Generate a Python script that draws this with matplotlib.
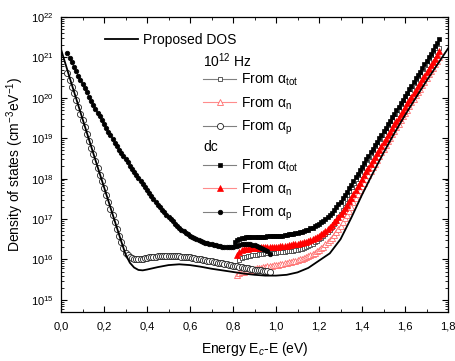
import numpy as np
import matplotlib
matplotlib.use("Agg")
import matplotlib.pyplot as plt
from matplotlib.ticker import MultipleLocator, LogLocator, FuncFormatter, NullFormatter

plt.rcParams['font.family'] = ['Liberation Sans', 'DejaVu Sans']
plt.rcParams['mathtext.fontset'] = 'custom'
plt.rcParams['mathtext.rm'] = 'Liberation Sans'
plt.rcParams['mathtext.it'] = 'Liberation Sans:italic'
plt.rcParams['mathtext.bf'] = 'Liberation Sans:bold'

# Proposed DOS (solid line), log10 of density
e_dos = [0.0, 0.05, 0.10, 0.15, 0.20, 0.25, 0.28, 0.30, 0.32, 0.34, 0.36, 0.38, 0.40,
         0.45, 0.50, 0.55, 0.60, 0.65, 0.70, 0.75, 0.80, 0.85, 0.90, 0.95, 1.00, 1.05,
         1.10, 1.15, 1.20, 1.25, 1.30, 1.35, 1.40, 1.45, 1.50, 1.55, 1.60, 1.65, 1.70,
         1.75, 1.80]
logn_dos = [21.20, 20.33, 19.48, 18.63, 17.79, 16.95, 16.45, 16.13, 15.92, 15.80, 15.74,
            15.73, 15.75, 15.81, 15.86, 15.88, 15.86, 15.82, 15.77, 15.73, 15.69, 15.65,
            15.62, 15.60, 15.60, 15.62, 15.68, 15.79, 15.97, 16.15, 16.50, 17.03, 17.60,
            18.13, 18.64, 19.12, 19.57, 20.00, 20.42, 20.82, 21.22]

# 10^12 Hz, from alpha_tot (starts at 0.83 eV, 0.01 eV step)
logn_tot12 = [15.99, 16.03, 16.05, 16.07, 16.08, 16.09, 16.10, 16.11, 16.12, 16.13,
              16.14, 16.14, 16.15, 16.15, 16.16, 16.16, 16.17, 16.17, 16.18, 16.18,
              16.19, 16.19, 16.20, 16.20, 16.21, 16.22, 16.23, 16.24, 16.25, 16.27,
              16.29, 16.31, 16.33, 16.36, 16.39, 16.42, 16.46, 16.50, 16.54, 16.59,
              16.64, 16.69, 16.74, 16.81, 16.88, 16.96, 17.04, 17.13, 17.22, 17.31,
              17.40, 17.50, 17.60, 17.69, 17.79, 17.89, 17.98, 18.08, 18.17, 18.26,
              18.35, 18.44, 18.53, 18.62, 18.71, 18.80, 18.89, 18.98, 19.07, 19.16,
              19.24, 19.33, 19.42, 19.50, 19.59, 19.68, 19.76, 19.85, 19.94, 20.02,
              20.11, 20.19, 20.28, 20.37, 20.45, 20.54, 20.62, 20.71, 20.80, 20.88,
              20.97, 21.05, 21.14, 21.23]

# 10^12 Hz, from alpha_n (starts at 0.82 eV)
logn_n12 = [15.62, 15.66, 15.68, 15.70, 15.72, 15.73, 15.74, 15.75, 15.77, 15.78,
            15.79, 15.80, 15.81, 15.82, 15.83, 15.84, 15.85, 15.86, 15.86, 15.87,
            15.88, 15.89, 15.90, 15.91, 15.93, 15.94, 15.95, 15.97, 15.98, 16.00,
            16.02, 16.04, 16.06, 16.08, 16.11, 16.14, 16.17, 16.20, 16.24, 16.28,
            16.32, 16.37, 16.42, 16.48, 16.54, 16.61, 16.68, 16.76, 16.84, 16.93,
            17.02, 17.11, 17.21, 17.31, 17.41, 17.51, 17.61, 17.71, 17.81, 17.90,
            18.00, 18.09, 18.19, 18.28, 18.37, 18.46, 18.56, 18.65, 18.74, 18.83,
            18.92, 19.01, 19.10, 19.19, 19.28, 19.36, 19.45, 19.54, 19.63, 19.71,
            19.80, 19.89, 19.97, 20.06, 20.15, 20.23, 20.32, 20.40, 20.49, 20.58,
            20.66, 20.75, 20.83, 20.92, 21.00]

# 10^12 Hz, from alpha_p (starts at 0.03 eV)
logn_p12 = [20.62, 20.45, 20.28, 20.12, 19.95, 19.78, 19.61, 19.44, 19.28, 19.11,
            18.94, 18.77, 18.60, 18.44, 18.27, 18.10, 17.93, 17.76, 17.60, 17.43,
            17.26, 17.09, 16.92, 16.76, 16.59, 16.43, 16.28, 16.17, 16.10, 16.06,
            16.04, 16.02, 16.01, 16.01, 16.01, 16.02, 16.03, 16.04, 16.05, 16.06,
            16.07, 16.07, 16.08, 16.08, 16.09, 16.09, 16.09, 16.09, 16.09, 16.09,
            16.08, 16.08, 16.08, 16.07, 16.07, 16.06, 16.06, 16.05, 16.04, 16.03,
            16.02, 16.01, 16.00, 15.99, 15.98, 15.97, 15.96, 15.95, 15.94, 15.93,
            15.92, 15.91, 15.90, 15.89, 15.88, 15.87, 15.86, 15.85, 15.84, 15.83,
            15.82, 15.81, 15.80, 15.79, 15.78, 15.77, 15.76, 15.75, 15.74, 15.74,
            15.73, 15.72, 15.71, 15.71, 15.70]

# dc, from alpha_tot (starts at 0.81 eV)
logn_totdc = [16.44, 16.48, 16.51, 16.53, 16.54, 16.55, 16.55, 16.56, 16.56, 16.56,
              16.56, 16.56, 16.56, 16.56, 16.56, 16.57, 16.57, 16.57, 16.58, 16.58,
              16.58, 16.59, 16.59, 16.60, 16.61, 16.62, 16.63, 16.64, 16.65, 16.66,
              16.67, 16.69, 16.71, 16.72, 16.74, 16.77, 16.79, 16.82, 16.85, 16.88,
              16.92, 16.96, 17.00, 17.05, 17.10, 17.16, 17.22, 17.29, 17.36, 17.43,
              17.51, 17.59, 17.67, 17.76, 17.85, 17.94, 18.03, 18.12, 18.21, 18.30,
              18.39, 18.48, 18.56, 18.65, 18.74, 18.82, 18.91, 19.00, 19.08, 19.17,
              19.26, 19.34, 19.43, 19.52, 19.60, 19.69, 19.78, 19.86, 19.95, 20.04,
              20.12, 20.21, 20.30, 20.39, 20.48, 20.56, 20.65, 20.74, 20.83, 20.92,
              21.00, 21.09, 21.18, 21.27, 21.36, 21.45]

# dc, from alpha_n (starts at 0.82 eV)
logn_ndc = [16.11, 16.18, 16.23, 16.25, 16.26, 16.27, 16.28, 16.28, 16.29, 16.29,
            16.29, 16.30, 16.30, 16.30, 16.31, 16.31, 16.31, 16.32, 16.32, 16.32,
            16.33, 16.33, 16.34, 16.34, 16.35, 16.36, 16.37, 16.38, 16.39, 16.40,
            16.41, 16.42, 16.44, 16.46, 16.48, 16.50, 16.53, 16.56, 16.59, 16.62,
            16.66, 16.70, 16.75, 16.80, 16.86, 16.92, 16.98, 17.05, 17.12, 17.19,
            17.27, 17.35, 17.44, 17.53, 17.62, 17.71, 17.81, 17.90, 18.00, 18.09,
            18.18, 18.27, 18.36, 18.45, 18.54, 18.63, 18.72, 18.81, 18.90, 18.99,
            19.08, 19.16, 19.25, 19.34, 19.42, 19.51, 19.60, 19.68, 19.77, 19.86,
            19.94, 20.03, 20.11, 20.20, 20.29, 20.37, 20.46, 20.54, 20.63, 20.72,
            20.80, 20.89, 20.97, 21.06, 21.15]

# dc, from alpha_p (starts at 0.03 eV)
logn_pdc = [21.10, 20.99, 20.88, 20.77, 20.66, 20.55, 20.45, 20.34, 20.24, 20.14,
            20.03, 19.93, 19.83, 19.73, 19.63, 19.54, 19.44, 19.35, 19.26, 19.16,
            19.07, 18.98, 18.89, 18.80, 18.72, 18.64, 18.56, 18.48, 18.40, 18.32,
            18.25, 18.17, 18.10, 18.02, 17.95, 17.87, 17.80, 17.72, 17.65, 17.57,
            17.50, 17.42, 17.35, 17.29, 17.23, 17.17, 17.11, 17.05, 16.99, 16.94,
            16.88, 16.83, 16.78, 16.74, 16.70, 16.66, 16.62, 16.58, 16.55, 16.52,
            16.50, 16.47, 16.45, 16.43, 16.41, 16.40, 16.38, 16.37, 16.36, 16.35,
            16.34, 16.33, 16.32, 16.31, 16.31, 16.30, 16.31, 16.32, 16.33, 16.34,
            16.36, 16.37, 16.38, 16.38, 16.38, 16.37, 16.36, 16.35, 16.33, 16.31,
            16.29, 16.27, 16.24, 16.20, 16.14]


def grid(start, vals):
    # energies of the 0.01 eV sampling grid
    return np.round(start + 0.01 * np.arange(len(vals)), 2)


gray = '#808080'
pink = '#ff8c8c'
red = '#ff0000'

fig = plt.figure(figsize=(4.56, 3.61), dpi=100)
ax = fig.add_axes([0.1338, 0.1357, 0.8487, 0.8172])

h_tot12, = ax.plot(grid(0.83, logn_tot12), 10 ** np.array(logn_tot12), '-', color=gray, lw=0.8,
                   marker='s', ms=3.4, mfc='white', mec='#404040', mew=0.6)
h_n12, = ax.plot(grid(0.82, logn_n12), 10 ** np.array(logn_n12), '-', color=pink, lw=0.8,
                 marker='^', ms=4.0, mfc='white', mec='#ff6a6a', mew=0.6)
h_p12, = ax.plot(grid(0.03, logn_p12), 10 ** np.array(logn_p12), '-', color=gray, lw=0.8,
                 marker='o', ms=4.4, mfc='white', mec='#202020', mew=0.6)
h_totdc, = ax.plot(grid(0.81, logn_totdc), 10 ** np.array(logn_totdc), '-', color=gray, lw=0.8,
                   marker='s', ms=3.2, mfc='black', mec='black', mew=0.5)
h_ndc, = ax.plot(grid(0.82, logn_ndc), 10 ** np.array(logn_ndc), '-', color=pink, lw=0.8,
                 marker='^', ms=3.8, mfc=red, mec=red, mew=0.5)
h_pdc, = ax.plot(grid(0.03, logn_pdc), 10 ** np.array(logn_pdc), '-', color=gray, lw=0.8,
                 marker='o', ms=3.3, mfc='black', mec='black', mew=0.5)
h_dos, = ax.plot(e_dos, 10 ** np.array(logn_dos), '-', color='black', lw=1.3)

ax.set_yscale('log')
ax.set_xlim(0, 1.8)
ax.set_ylim(5e14, 1e22)
ax.xaxis.set_major_locator(MultipleLocator(0.2))
ax.xaxis.set_minor_locator(MultipleLocator(0.1))
ax.xaxis.set_major_formatter(FuncFormatter(lambda v, p: f"{v:.1f}".replace('.', ',')))
ax.yaxis.set_major_locator(LogLocator(base=10, numticks=20))
ax.yaxis.set_minor_locator(LogLocator(base=10, subs=np.arange(2, 10), numticks=20))
ax.yaxis.set_minor_formatter(NullFormatter())
ax.tick_params(which='both', direction='in', top=True, right=True, labelsize=8)
ax.tick_params(which='major', length=4, width=0.8)
ax.tick_params(which='minor', length=2, width=0.6)
ax.tick_params(axis='x', which='major', pad=7)
ax.tick_params(axis='y', which='major', pad=5)
for s in ax.spines.values():
    s.set_linewidth(0.9)

ax.set_xlabel('Energy E$_c$-E (eV)', fontsize=10, labelpad=6)
ax.set_ylabel('Density of states (cm$^{-3}$eV$^{-1}$)', fontsize=10, labelpad=4)

common = dict(frameon=False, borderpad=0, borderaxespad=0, handlelength=2.4,
              handletextpad=0.35, fontsize=10, labelspacing=0.5)
labels = ['From α$_{\\rm tot}$', 'From α$_{\\rm n}$', 'From α$_{\\rm p}$']
leg1 = ax.legend([h_dos], ['Proposed DOS'], loc='center left',
                 bbox_to_anchor=(0.114, 0.922), **common)
ax.add_artist(leg1)
leg2 = ax.legend([h_tot12, h_n12, h_p12], labels, loc='center left',
                 bbox_to_anchor=(0.367, 0.704), **common)
ax.add_artist(leg2)
ax.legend([h_totdc, h_ndc, h_pdc], labels, loc='center left',
          bbox_to_anchor=(0.367, 0.412), **common)
ax.text(0.367, 0.851, '10$^{12}$ Hz', transform=ax.transAxes, fontsize=10,
        ha='left', va='center')
ax.text(0.367, 0.559, 'dc', transform=ax.transAxes, fontsize=10,
        ha='left', va='center')

fig.savefig('out.png', dpi=100)
